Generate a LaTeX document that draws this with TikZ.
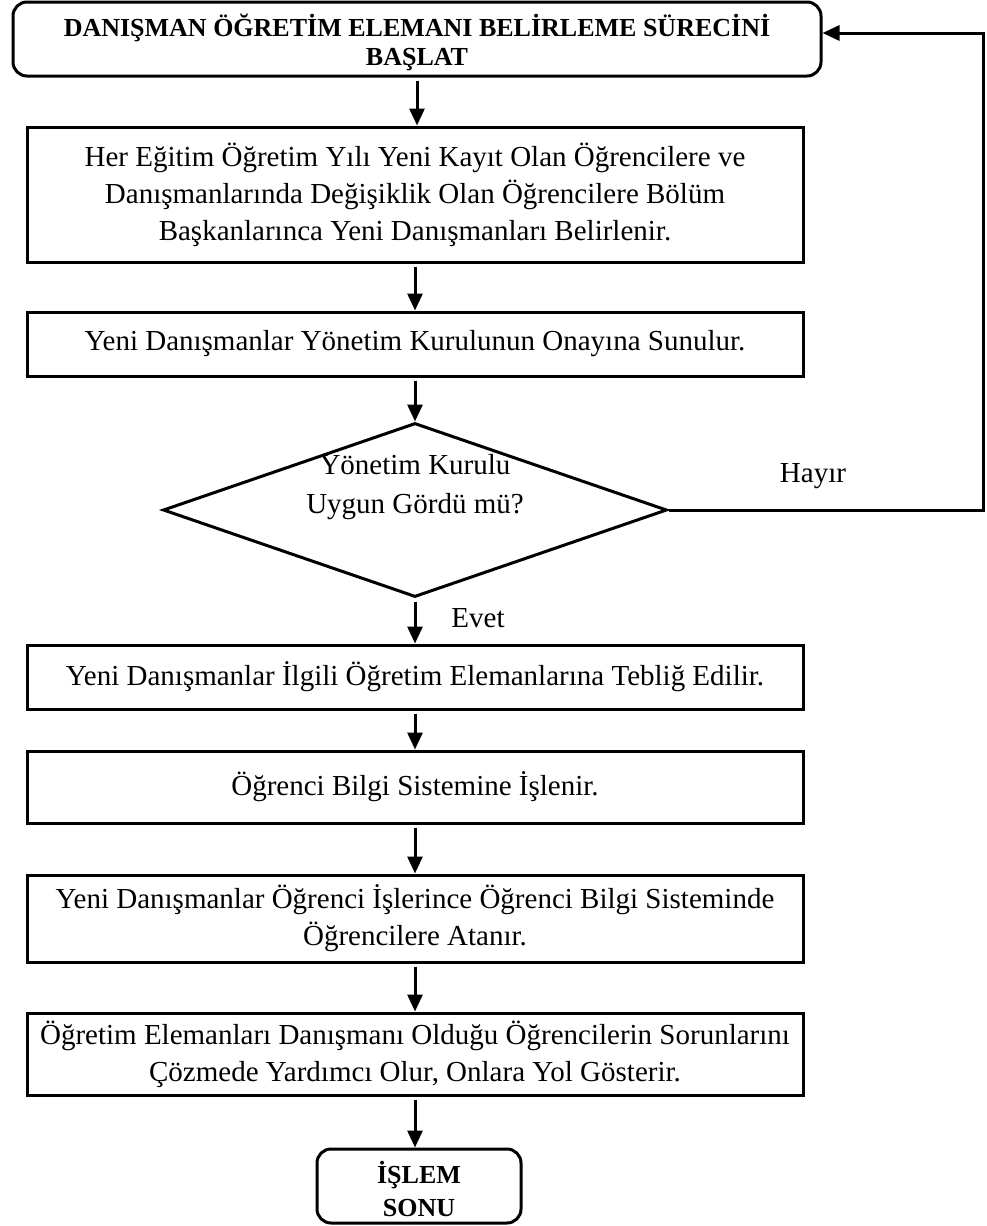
\documentclass[tikz,border=0pt]{standalone}
\usepackage{fontspec}
\setmainfont{Liberation Serif}
\usetikzlibrary{arrows.meta,shapes.geometric}

% lower a line of text without changing the box it reports
\newcommand{\lowerline}[2]{\raisebox{-#1}[\height][\depth]{#2}}

\tikzset{
  flowline/.style={line width=3pt},
  tip/.style={-{Triangle[length=17pt,width=15pt]}},
  flowarrow/.style={flowline, tip, shorten <=3pt},
  stepbox/.style={draw, flowline, rectangle, inner sep=0pt, align=center,
    minimum width=776pt, font=\fontsize{29}{37}\selectfont},
  terminal/.style={draw, flowline, rectangle, rounded corners=14pt, inner sep=0pt,
    align=center, font=\bfseries\fontsize{26}{29}\selectfont},
  decision/.style={draw, flowline, diamond, inner sep=0pt, aspect=2.9,
    minimum width=504pt, minimum height=174pt},
  plaintext/.style={inner sep=0pt, align=center, font=\fontsize{29}{39}\selectfont}
}

\begin{document}
\begin{tikzpicture}[x=1pt,y=-1pt]
  \useasboundingbox (0,0) rectangle (986,1226);

  % process steps
  \node[terminal, minimum width=808pt, minimum height=74pt] (start) at (417,39)
    {\lowerline{3.5pt}{DANIŞMAN ÖĞRETİM ELEMANI BELİRLEME SÜRECİNİ}\\
     \lowerline{3.5pt}{BAŞLAT}};
  \node[stepbox, minimum height=135pt] (s1) at (415,194.5)
    {Her Eğitim Öğretim Yılı Yeni Kayıt Olan Öğrencilere ve\\
     Danışmanlarında Değişiklik Olan Öğrencilere Bölüm\\
     Başkanlarınca Yeni Danışmanları Belirlenir.};
  \node[stepbox, minimum height=64pt] (s2) at (415,344)
    {Yeni Danışmanlar Yönetim Kurulunun Onayına Sunulur.};
  \node[decision] (d1) at (415,510) {};
  \node[plaintext] (d1text) at (415,487) {Yönetim Kurulu\\Uygun Gördü mü?};
  \node[stepbox, minimum height=64pt] (s3) at (415,677)
    {Yeni Danışmanlar İlgili Öğretim Elemanlarına Tebliğ Edilir.};
  \node[stepbox, minimum height=72pt] (s4) at (415,787)
    {Öğrenci Bilgi Sistemine İşlenir.};
  \node[stepbox, minimum height=87pt] (s5) at (415,918.5)
    {Yeni Danışmanlar Öğrenci İşlerince Öğrenci Bilgi Sisteminde\\
     Öğrencilere Atanır.};
  \node[stepbox, minimum height=82pt] (s6) at (415,1054)
    {Öğretim Elemanları Danışmanı Olduğu Öğrencilerin Sorunlarını\\
     Çözmede Yardımcı Olur, Onlara Yol Gösterir.};
  \node[terminal, minimum width=204pt, minimum height=74pt,
        font=\bfseries\fontsize{26}{33}\selectfont]
    (stop) at (419,1186) {\lowerline{2.5pt}{İŞLEM}\\\lowerline{2.5pt}{SONU}};

  % branch labels
  \node[plaintext] (no) at (813,476) {Hayır};
  \node[plaintext] (yes) at (478,618) {Evet};

  % main flow
  \draw[flowarrow] (start.south) -- (start.south |- s1.north);
  \draw[flowarrow] (s1.south) -- (s2.north);
  \draw[flowarrow] (s2.south) -- (d1.north);
  \draw[flowarrow] (d1.south) -- (s3.north);
  \draw[flowarrow] (s3.south) -- (s4.north);
  \draw[flowarrow] (s4.south) -- (s5.north);
  \draw[flowarrow] (s5.south) -- (s6.north);
  \draw[flowarrow] (s6.south) -- (s6.south |- stop.north);

  % rejection loop back to the start
  \coordinate (loop) at (983,33);
  \draw[flowline, tip] (d1.east) -| (loop) -- (start.east |- loop);
\end{tikzpicture}
\end{document}
